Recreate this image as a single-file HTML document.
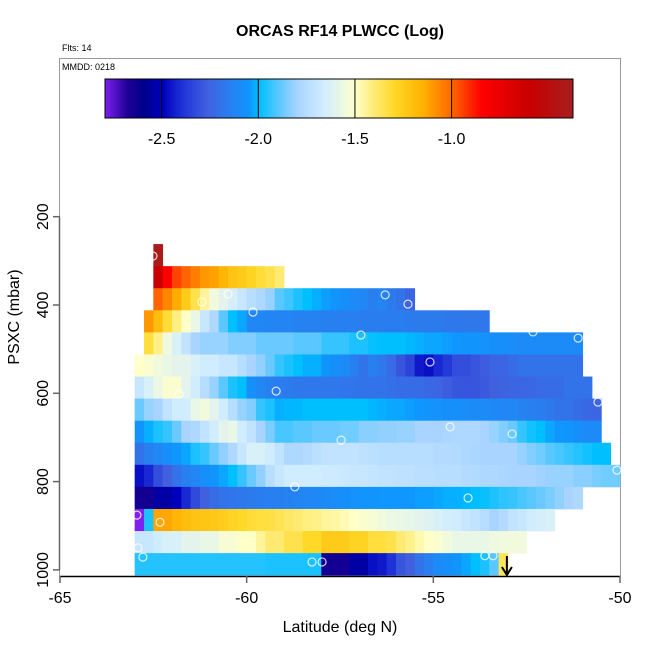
<!DOCTYPE html>
<html><head><meta charset="utf-8"><style>
html,body{margin:0;padding:0;background:#fff;}
svg{display:block;font-family:"Liberation Sans",Arial,sans-serif;}
</style></head><body>
<svg id="chart" width="650" height="650" viewBox="0 0 650 650">
<text x="340" y="36" text-anchor="middle" font-size="16" font-weight="bold">ORCAS RF14 PLWCC (Log)</text>
<text x="62" y="51" font-size="9">Flts: 14</text>
<rect x="59.5" y="58.5" width="561" height="518" fill="none" stroke="#999" stroke-width="1"/>
<text x="62" y="70" font-size="9">MMDD: 0218</text>
<g id="cells"></g>
<g id="pts"></g>
<g id="cbar"></g>
<g id="axes"></g>
<text x="340" y="632" text-anchor="middle" font-size="16">Latitude (deg N)</text>
<text transform="translate(19,317) rotate(-90)" text-anchor="middle" font-size="16">PSXC (mbar)</text>
</svg>
<script>
// ---- data ----
const pressureBins = [287,337,387,437,487,537,587,637,687,737,787,837,887,937,987];
const rowStartLat = [-62.5,-62.5,-62.5,-62.75,-62.75,-63,-63,-63,-63,-63,-63,-63,-63,-63,-63];
const row0 = [-0.4];
const row1 = [-0.6,-0.85,-0.95,-1.0,-1.05,-1.1,-1.12,-1.17,-1.22,-1.25,-1.28,-1.32,-1.35,-1.4];
const row2 = [-1.0,-1.07,-1.14,-1.25,-1.35,-1.45,-1.55,-1.6,-1.65,-1.7,-1.75,-1.78,-1.82,-1.9,-1.93,-1.97,-2.0,-2.02,-2.04,-2.06,-2.08,-2.1,-2.12,-2.15,-2.13,-2.17,-2.2,-2.25];
const row3 = [-1.1,-1.2,-1.32,-1.42,-1.5,-1.58,-1.7,-1.78,-1.9,-2.0,-2.03,-2.12,-2.12,-2.13,-2.13,-2.13,-2.14,-2.14,-2.14,-2.15,-2.15,-2.15,-2.15,-2.16,-2.16,-2.16,-2.16,-2.16,-2.17,-2.17,-2.17,-2.17,-2.18,-2.18,-2.18,-2.18,-2.18];
const row4 = [-1.33,-1.43,-1.56,-1.64,-1.72,-1.8,-1.82,-1.82,-1.82,-1.85,-1.85,-1.85,-1.88,-1.88,-1.88,-1.88,-1.9,-1.9,-1.9,-1.94,-1.94,-1.94,-1.97,-1.97,-1.99,-2.0,-2.0,-2.0,-2.01,-2.02,-2.03,-2.03,-2.04,-2.05,-2.06,-2.06,-2.07,-2.08,-2.08,-2.09,-2.1,-2.1,-2.1,-2.1,-2.1,-2.1,-2.1];
const row5 = [-1.5,-1.52,-1.55,-1.58,-1.6,-1.6,-1.64,-1.67,-1.67,-1.7,-1.7,-1.75,-1.8,-1.83,-1.88,-1.94,-1.97,-2.0,-2.02,-2.02,-2.06,-2.08,-2.1,-2.15,-2.2,-2.15,-2.18,-2.23,-2.3,-2.35,-2.45,-2.47,-2.42,-2.38,-2.32,-2.32,-2.3,-2.28,-2.25,-2.25,-2.22,-2.2,-2.2,-2.2,-2.2,-2.2,-2.2,-2.2];
const row6 = [-1.7,-1.64,-1.57,-1.52,-1.52,-1.6,-1.67,-1.75,-1.82,-1.9,-1.97,-2.0,-2.08,-2.12,-2.15,-2.16,-2.17,-2.18,-2.18,-2.18,-2.18,-2.18,-2.19,-2.19,-2.2,-2.2,-2.2,-2.21,-2.22,-2.22,-2.22,-2.24,-2.25,-2.28,-2.3,-2.3,-2.3,-2.29,-2.27,-2.26,-2.25,-2.25,-2.24,-2.23,-2.22,-2.22,-2.2,-2.2,-2.2];
const row7 = [-1.88,-1.82,-1.8,-1.72,-1.67,-1.67,-1.58,-1.55,-1.6,-1.67,-1.75,-1.82,-1.85,-1.94,-1.97,-2.02,-2.01,-2.01,-2.0,-2.0,-2.0,-2.0,-2.0,-2.0,-2.0,-2.01,-2.02,-2.03,-2.03,-2.04,-2.05,-2.06,-2.07,-2.08,-2.08,-2.09,-2.1,-2.1,-2.11,-2.12,-2.12,-2.14,-2.15,-2.16,-2.18,-2.2,-2.2,-2.22,-2.24,-2.25];
const row8 = [-2.06,-2.02,-1.97,-1.94,-1.88,-1.8,-1.78,-1.72,-1.67,-1.6,-1.58,-1.67,-1.72,-1.8,-1.86,-1.92,-1.92,-1.9,-1.9,-1.88,-1.88,-1.88,-1.87,-1.87,-1.84,-1.84,-1.83,-1.83,-1.82,-1.82,-1.8,-1.8,-1.8,-1.79,-1.78,-1.78,-1.78,-1.8,-1.82,-1.85,-1.88,-1.94,-1.98,-2.0,-2.03,-2.05,-2.06,-2.08,-2.1,-2.1];
const row9 = [-2.2,-2.15,-2.12,-2.08,-2.05,-2.03,-1.97,-1.94,-1.88,-1.83,-1.78,-1.7,-1.64,-1.64,-1.67,-1.72,-1.78,-1.78,-1.76,-1.74,-1.72,-1.72,-1.72,-1.72,-1.73,-1.74,-1.75,-1.75,-1.75,-1.75,-1.75,-1.75,-1.76,-1.76,-1.77,-1.78,-1.79,-1.8,-1.8,-1.8,-1.8,-1.82,-1.85,-1.87,-1.9,-1.92,-1.94,-1.96,-1.98,-2.0,-2.0];
const row10 = [-2.47,-2.42,-2.32,-2.27,-2.2,-2.15,-2.12,-2.08,-2.06,-2.03,-2.0,-1.94,-1.88,-1.83,-1.75,-1.7,-1.67,-1.67,-1.67,-1.67,-1.68,-1.68,-1.69,-1.7,-1.7,-1.71,-1.72,-1.72,-1.73,-1.73,-1.74,-1.74,-1.75,-1.75,-1.75,-1.76,-1.77,-1.78,-1.78,-1.79,-1.8,-1.8,-1.8,-1.81,-1.82,-1.82,-1.82,-1.84,-1.84,-1.86,-1.87,-1.87];
const row11 = [-2.65,-2.65,-2.55,-2.55,-2.5,-2.42,-2.33,-2.27,-2.22,-2.2,-2.19,-2.18,-2.17,-2.16,-2.15,-2.15,-2.14,-2.13,-2.12,-2.11,-2.1,-2.09,-2.08,-2.07,-2.06,-2.06,-2.05,-2.05,-2.05,-2.05,-2.04,-2.04,-2.03,-2.02,-2.02,-2.01,-2.0,-1.99,-1.97,-1.95,-1.94,-1.92,-1.9,-1.88,-1.86,-1.83,-1.8,-1.78];
const row12 = [-2.8,-1.97,-1.13,-1.13,-1.17,-1.2,-1.22,-1.23,-1.24,-1.26,-1.28,-1.3,-1.32,-1.33,-1.34,-1.36,-1.38,-1.4,-1.42,-1.43,-1.45,-1.46,-1.48,-1.5,-1.52,-1.53,-1.55,-1.57,-1.58,-1.59,-1.6,-1.62,-1.64,-1.66,-1.67,-1.7,-1.72,-1.75,-1.8,-1.76,-1.72,-1.7,-1.67,-1.65,-1.64];
const row13 = [-1.7,-1.7,-1.67,-1.64,-1.64,-1.6,-1.6,-1.58,-1.58,-1.53,-1.53,-1.5,-1.5,-1.45,-1.4,-1.4,-1.35,-1.35,-1.3,-1.3,-1.25,-1.25,-1.25,-1.28,-1.28,-1.33,-1.33,-1.35,-1.4,-1.43,-1.47,-1.5,-1.52,-1.55,-1.58,-1.58,-1.58,-1.58,-1.56,-1.55,-1.55,-1.55];
const row14 = [-1.96,-1.96,-1.96,-1.96,-1.96,-1.96,-1.96,-1.96,-1.96,-1.96,-1.96,-1.96,-1.96,-1.96,-1.97,-1.97,-1.97,-1.97,-1.97,-1.97,-2.65,-2.65,-2.65,-2.55,-2.55,-2.47,-2.45,-2.4,-2.3,-2.27,-2.2,-2.15,-2.1,-2.08,-2.06,-2.03,-2.0,-1.97,-1.9,-1.37];
const rows = [row0,row1,row2,row3,row4,row5,row6,row7,row8,row9,row10,row11,row12,row13,row14];
const pointLat = [-62.51,-60.5,-61.2,-59.83,-56.94,-62.94,-61.81,-59.21,-56.29,-55.68,-52.33,-51.12,-55.09,-57.47,-58.71,-62.94,-62.32,-62.91,-62.78,-58.25,-57.98,-50.59,-54.55,-52.89,-50.08,-54.07,-53.62,-53.4];
const pointP = [289,375,393,416,468,518,602,595,377,398,461,475,529,706,812,876,892,950,971,982,982,620,676,692,774,837,968,968];
const cbarTicks = [-2.5,-2.0,-1.5,-1.0];
const xTicks = [-65,-60,-55,-50];
const yTicks = [200,400,600,800,1000];
const arrowLat = [-53.03];

// ---- scales ----
const X = lat => 60 + (lat + 65) * 37.333;
const Y = p => 216.7 + (p - 200) * 0.4415;
const CW = 0.25, PH = 50;
const stops = [[-2.8,[128,32,240]],[-2.68,[30,0,150]],[-2.6,[0,0,139]],[-2.5,[0,0,190]],[-2.4,[30,50,215]],[-2.27,[64,96,224]],[-2.15,[40,128,240]],[-2.05,[16,150,255]],[-2.0,[0,191,255]],[-1.9,[90,200,255]],[-1.8,[168,212,255]],[-1.67,[208,236,255]],[-1.57,[236,248,228]],[-1.5,[255,255,200]],[-1.42,[255,238,128]],[-1.3,[255,216,40]],[-1.15,[255,176,0]],[-1.0,[255,100,0]],[-0.85,[255,0,0]],[-0.6,[200,0,0]],[-0.37,[165,32,32]]];
function col(v){
  if(v<=stops[0][0]) return rgb(stops[0][1]);
  for(let i=1;i<stops.length;i++){
    if(v<=stops[i][0]){const a=stops[i-1],b=stops[i];const t=(v-a[0])/(b[0]-a[0]);
      return rgb(a[1].map((c,k)=>c+(b[1][k]-c)*t));}
  }
  return rgb(stops[stops.length-1][1]);
}
function rgb(c){return 'rgb('+c.map(Math.round).join(',')+')';}
const NS='http://www.w3.org/2000/svg';
function mk(tag,attrs,parent){const e=document.createElementNS(NS,tag);for(const k in attrs)e.setAttribute(k,attrs[k]);parent.appendChild(e);return e;}

// ---- heatmap ----
const gC=document.getElementById('cells');
rows.forEach((vals,r)=>{
  const p0=pressureBins[r]-PH/2, p1=pressureBins[r]+PH/2;
  vals.forEach((v,i)=>{
    const l0=rowStartLat[r]+i*CW, l1=l0+CW;
    const e=mk('rect',{x:X(l0),y:Y(p0),width:X(l1)-X(l0)+0.4,height:Y(p1)-Y(p0)+0.4,fill:col(v)},gC);
    
    
  });
});
// ---- points ----
const gP=document.getElementById('pts');
pointLat.forEach((la,i)=>{
  const e=mk('circle',{cx:X(la),cy:Y(pointP[i]),r:4,fill:'none',stroke:'rgba(255,255,255,0.8)','stroke-width':1.2},gP);
  
  
});
// arrow
arrowLat.forEach(la=>{
  const ax=X(la);
  const a=mk('path',{d:`M${ax},556 L${ax},575 M${ax-5},567 L${ax},575 L${ax+5},567`,stroke:'#000','stroke-width':2,fill:'none'},gP);
  
  
});
// ---- colorbar ----
const gB=document.getElementById('cbar');
const cbX=v=>105+(v+2.793)*193.3;
for(let v=-2.793;v<-0.375;v+=0.01){
  const e=mk('rect',{x:cbX(v),y:79,width:2.5,height:39,fill:col(v)},gB);
  
  
}
const bb=mk('rect',{x:105,y:79,width:468,height:39,fill:'none',stroke:'#000','stroke-width':1},gB);


cbarTicks.forEach(t=>{
  const l=mk('line',{x1:cbX(t),x2:cbX(t),y1:79,y2:118,stroke:'#000','stroke-width':1},gB);
  
  
  const tx=mk('text',{x:cbX(t),y:144,'text-anchor':'middle','font-size':16},gB);
  tx.textContent=t.toFixed(1);
  
  
});
// ---- axes ----
const gA=document.getElementById('axes');
const xl=mk('line',{x1:60,x2:620,y1:576.5,y2:576.5,stroke:'#000','stroke-width':1.5},gA);


xTicks.forEach(t=>{
  const l=mk('line',{x1:X(t),x2:X(t),y1:576,y2:583,stroke:'#666','stroke-width':1.5},gA);
  
  
  const tx=mk('text',{x:X(t),y:603,'text-anchor':'middle','font-size':16},gA);
  tx.textContent=t;
  
  
});
const yl=mk('line',{x1:59.5,x2:59.5,y1:Y(200),y2:Y(1000),stroke:'#666','stroke-width':1.5},gA);


yTicks.forEach(t=>{
  const l=mk('line',{x1:53,x2:60,y1:Y(t),y2:Y(t),stroke:'#666','stroke-width':1.5},gA);
  
  
  const tx=mk('text',{transform:`translate(48,${Y(t)}) rotate(-90)`,'text-anchor':'middle','font-size':16},gA);
  tx.textContent=t;
  
  
});
</script>
</body></html>
